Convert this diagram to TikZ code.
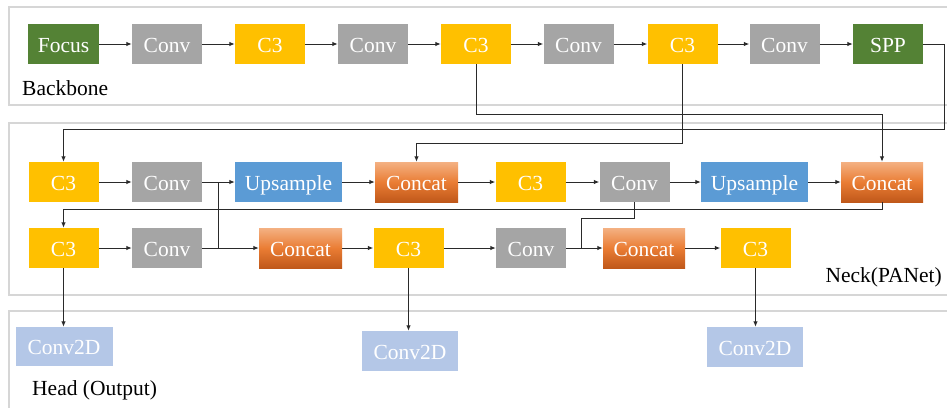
\documentclass[tikz,border=0pt]{standalone}
\usepackage{fontspec}
\setmainfont{Liberation Serif}
\usetikzlibrary{arrows.meta}
\definecolor{cGreen}{HTML}{548235}
\definecolor{cGrey}{HTML}{A5A5A5}
\definecolor{cYellow}{HTML}{FFC000}
\definecolor{cBlue}{HTML}{5B9BD5}
\definecolor{cLight}{HTML}{B4C7E7}
\definecolor{cOrTop}{HTML}{F4B183}
\definecolor{cOrMid}{HTML}{EA7D34}
\definecolor{cOrBot}{HTML}{C0581A}
\definecolor{cPanel}{HTML}{D6D6D6}
\definecolor{cLine}{HTML}{2A2A2A}
\tikzset{
  blk/.style={minimum height=40pt, minimum width=70pt, inner sep=0pt, text=white,
              text height=16pt, text depth=0pt,
              font=\fontsize{21.5}{24}\selectfont},
  focusbox/.style={blk, fill=cGreen},
  convbox/.style={blk, fill=cGrey},
  cthree/.style={blk, fill=cYellow},
  upbox/.style={blk, fill=cBlue, minimum width=107pt},
  catbox/.style={blk, minimum width=83pt, top color=cOrTop, bottom color=cOrBot, middle color=cOrMid},
  outbox/.style={blk, fill=cLight, minimum width=97pt, minimum height=39pt},
  panel/.style={draw=cPanel, line width=1.5pt},
  lbl/.style={font=\fontsize{21.5}{24}\selectfont, text=black, inner sep=0pt},
  wire/.style={draw=cLine, line width=1pt},
  arr/.style={wire, -{Latex[length=5.5pt,width=4.5pt]}}
}
\begin{document}
\begin{tikzpicture}[x=1pt,y=-1pt]
\useasboundingbox (0,0) rectangle (947,407);
\fill[white] (0,0) rectangle (947,407);

% stage panels
\draw[panel] (9,7) rectangle (960,105);
\draw[panel] (9,123) rectangle (960,295);
\draw[panel] (9,311) rectangle (960,420);
\node[lbl, anchor=west] (bbl) at (22,88) {Backbone};
\node[lbl, anchor=east] (nkl) at (942,277) {Neck(PANet)};
\node[lbl, anchor=west] (hdl) at (32,390) {Head (Output)};

% backbone
\node[focusbox, minimum width=71pt] (focus) at (63.5,44) {Focus};
\node[convbox] (conv1) at (167,44) {Conv};
\node[cthree]  (c3a)   at (270,44) {C3};
\node[convbox] (conv2) at (373,44) {Conv};
\node[cthree]  (c3b)   at (476,44) {C3};
\node[convbox] (conv3) at (578.5,44) {Conv};
\node[cthree]  (c3c)   at (682.5,44) {C3};
\node[convbox] (conv4) at (784.5,44) {Conv};
\node[focusbox] (spp)  at (888,44) {SPP};

% neck, upper row
\node[cthree]  (c3d)   at (63.5,182) {C3};
\node[convbox] (conv5) at (167,182) {Conv};
\node[upbox]   (ups1)  at (288.5,182) {Upsample};
\node[catbox]  (cat1)  at (416.5,182) {Concat};
\node[cthree]  (c3e)   at (530.5,182) {C3};
\node[convbox] (conv6) at (634.5,182) {Conv};
\node[upbox]   (ups2)  at (754.5,182) {Upsample};
\node[catbox, minimum width=82pt] (cat2) at (882,182) {Concat};

% neck, lower row
\node[cthree]  (c3f)   at (63.5,248) {C3};
\node[convbox] (conv7) at (167,248) {Conv};
\node[catbox]  (cat3)  at (300.5,248) {Concat};
\node[cthree]  (c3g)   at (408.5,248) {C3};
\node[convbox] (conv8) at (531,248) {Conv};
\node[catbox, minimum width=82pt] (cat4) at (644,248) {Concat};
\node[cthree]  (c3h)   at (755.5,248) {C3};

% head
\node[outbox] (d1) at (64,346.5) {Conv2D};
\node[outbox, minimum width=96pt, minimum height=40pt] (d2) at (410,351) {Conv2D};
\node[outbox, minimum width=96pt, minimum height=40pt] (d3) at (755,347) {Conv2D};

% backbone chain
\draw[arr] (focus) -- (conv1);
\draw[arr] (conv1) -- (c3a);
\draw[arr] (c3a) -- (conv2);
\draw[arr] (conv2) -- (c3b);
\draw[arr] (c3b) -- (conv3);
\draw[arr] (conv3) -- (c3c);
\draw[arr] (c3c) -- (conv4);
\draw[arr] (conv4) -- (spp);

% skip connections from backbone into neck
\coordinate (sppturn) at (944,129);
\draw[arr] (spp.east) -- (sppturn |- spp.east) -- (sppturn) -| (c3d.north);
\coordinate (c3bturn) at (476,114);
\draw[arr] (c3b.south) -- (c3bturn) -| (cat2.north);
\coordinate (c3cturn) at (682.5,143);
\draw[arr] (c3c.south) -- (c3cturn) -| (cat1.north);

% neck upper row chain
\draw[arr] (c3d) -- (conv5);
\draw[arr] (conv5) -- (ups1);
\draw[arr] (ups1) -- (cat1);
\draw[arr] (cat1) -- (c3e);
\draw[arr] (c3e) -- (conv6);
\draw[arr] (conv6) -- (ups2);
\draw[arr] (ups2) -- (cat2);

% wrap from upper row into lower row
\coordinate (cat2turn) at (882,209);
\draw[arr] (cat2.south) -- (cat2turn) -| (c3f.north);

% branch from first neck Conv down to lower Concat
\coordinate (j1) at (218,182);
\coordinate (j1b) at (218,248);
\draw[wire] (j1) -- (j1b);

% branch from second neck Conv down to lower Concat
\coordinate (j2a) at (634.5,218);
\coordinate (j2b) at (581,248);
\draw[wire] (conv6.south) -- (j2a) -| (j2b);

% neck lower row chain
\draw[arr] (c3f) -- (conv7);
\draw[arr] (conv7) -- (cat3);
\draw[arr] (cat3) -- (c3g);
\draw[arr] (c3g) -- (conv8);
\draw[arr] (conv8) -- (cat4);
\draw[arr] (cat4) -- (c3h);

% outputs
\draw[arr] (c3f.south) -- (c3f.south |- d1.north);
\draw[arr] (c3g.south) -- (c3g.south |- d2.north);
\draw[arr] (c3h.south) -- (c3h.south |- d3.north);
\end{tikzpicture}
\end{document}
